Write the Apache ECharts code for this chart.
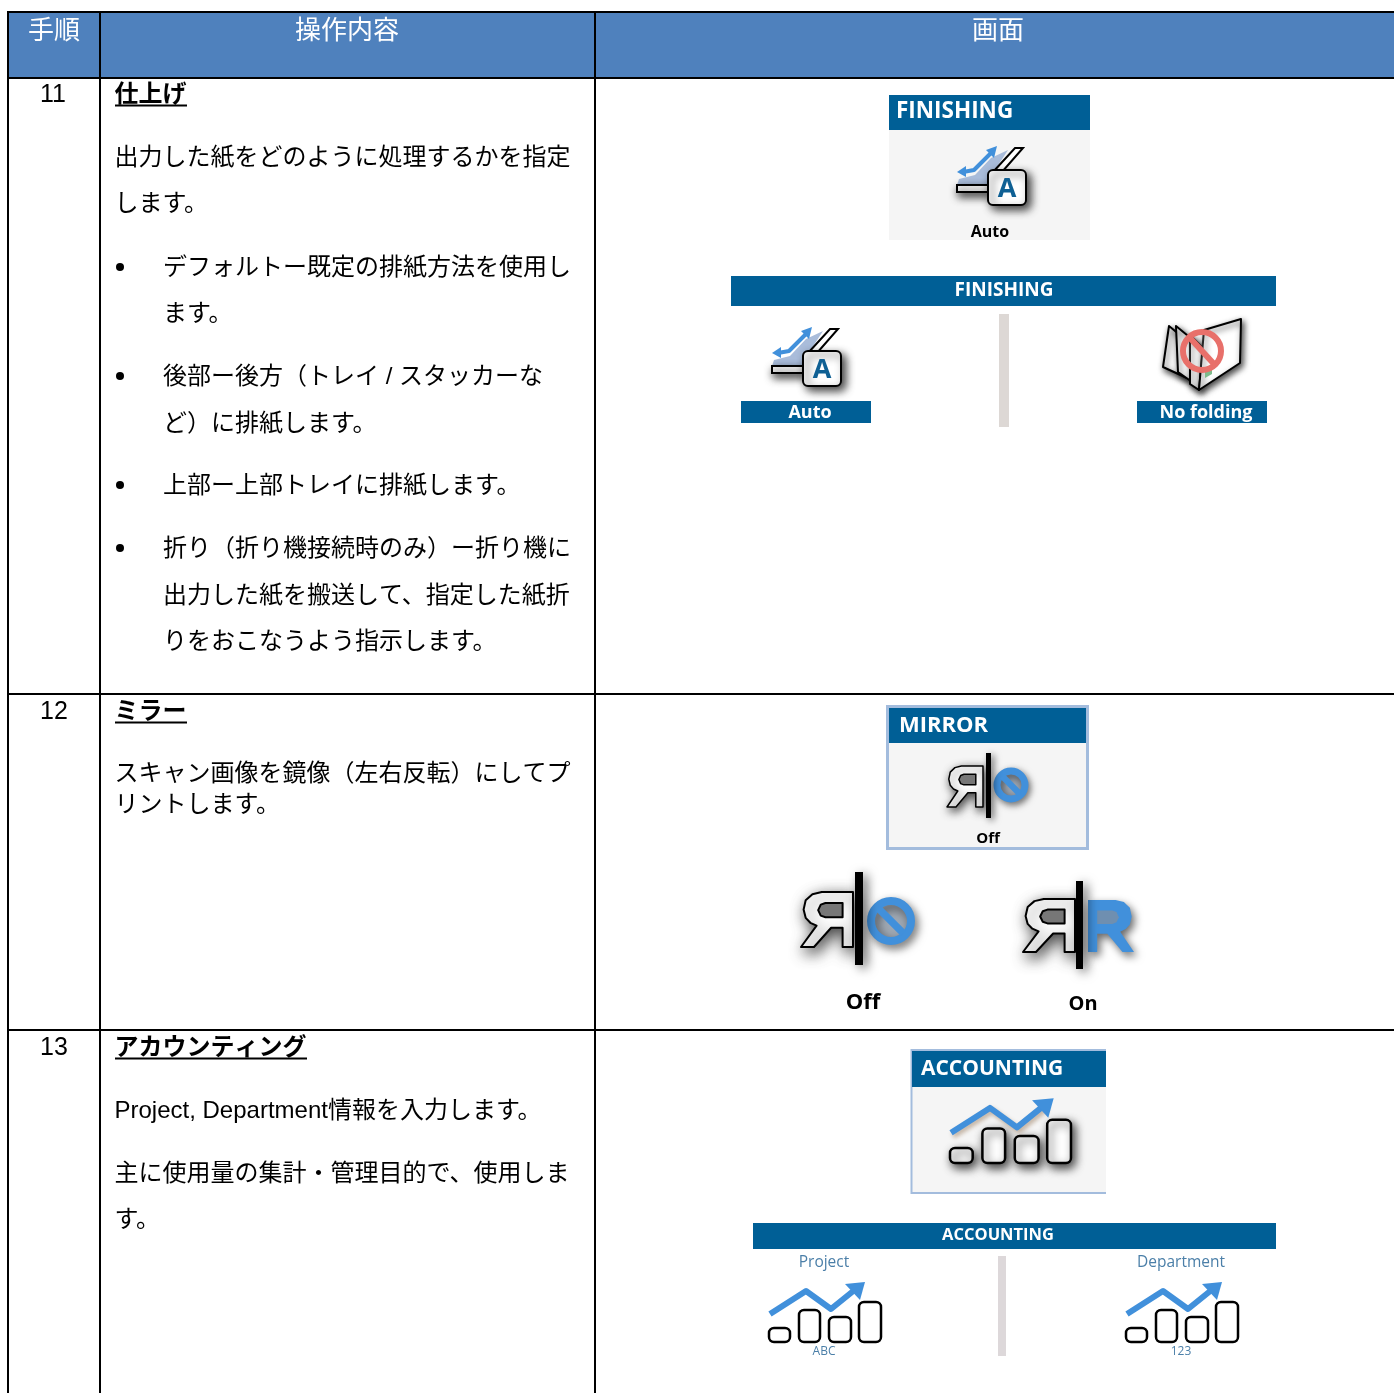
<!DOCTYPE html>
<html><head><meta charset="utf-8">
<style>html,body{margin:0;padding:0;background:#fff}#c{width:1394px;height:1393px}</style>
<script src="https://cdn.jsdelivr.net/npm/echarts@6/dist/echarts.min.js"></script>
</head><body><div id="c"></div>
<script>
const headers = ['手順', '操作内容', '画面'];
const steps = ['11', '12', '13'];
const titles = ['仕上げ', 'ミラー', 'アカウンティング'];
const finishingBody = ['出力した紙をどのように処理するかを指定', 'します。'];
const finishingBullets = ['デフォルトー既定の排紙方法を使用し', 'ます。', '後部ー後方（トレイ / スタッカーな', 'ど）に排紙します。', '上部ー上部トレイに排紙します。', '折り（折り機接続時のみ）ー折り機に', '出力した紙を搬送して、指定した紙折', 'りをおこなうよう指示します。'];
const mirrorBody = ['スキャン画像を鏡像（左右反転）にしてプ', 'リントします。'];
const accountingBody = ['Project, Department情報を入力します。', '主に使用量の集計・管理目的で、使用しま', 'す。'];
const panelLabels = {finishing:'FINISHING', auto:'Auto', noFolding:'No folding', mirror:'MIRROR', off:'Off', on:'On', accounting:'ACCOUNTING', project:'Project', department:'Department', abc:'ABC', num:'123'};

const BODY = '"Liberation Sans","Noto Sans CJK JP",sans-serif';
const UI = '"Open Sans","Noto Sans",sans-serif';
const BLUE = '#005F96', SKY = '#4190DB', PANEL = '#F5F5F5', EDGE = '#A3BCDD';
const g = [];
const rect = (x,y,w,h,fill,o={}) => g.push({type:'rect',shape:{x,y,width:w,height:h,r:o.r||0},style:Object.assign({fill},o.style||{}),z:o.z||1});
const line = (x1,y1,x2,y2,c,w,z=3) => g.push({type:'line',shape:{x1,y1,x2,y2},style:{stroke:c,lineWidth:w},z});
const text = (t,x,y,size,o={}) => g.push({type:'text',x,y:y+1.5,style:{text:t,fill:o.fill||'#000',font:(o.weight||'normal')+' '+size+'px '+(o.family||BODY),textAlign:o.align||'left',textVerticalAlign:'middle'},z:o.z||5});
const poly = (pts,style,z=4) => g.push({type:'polygon',shape:{points:pts},style,z});
const pline = (pts,style,z=4) => g.push({type:'polyline',shape:{points:pts},style:Object.assign({fill:null,lineJoin:'round'},style),z});
const circle = (cx,cy,r,style,z=4) => g.push({type:'circle',shape:{cx,cy,r},style,z});
const shadow = (b=9,dx=4,dy=4,c='rgba(0,0,0,0.75)') => ({shadowBlur:b,shadowOffsetX:dx,shadowOffsetY:dy,shadowColor:c});

/* table */
rect(8,12,1386,66,'#4F81BD');
[12,78,694,1030].forEach(y=>line(7,y,1394,y,'#000',2));
[8,100,595].forEach(x=>line(x,11,x,1393,'#000',2));
[54,347,998].forEach((x,i)=>text(headers[i],x,30.5,26,{fill:'#fff',align:'center'}));
const stepY=[94,711,1047], stepX=[53,54,54];
steps.forEach((s,i)=>text(s,stepX[i],stepY[i],25,{align:'center'}));
const titleW=[72,72,192];
titles.forEach((s,i)=>{text(s,114.5,stepY[i],24,{weight:'bold'});line(115,stepY[i]+11.5,115+titleW[i],stepY[i]+11.5,'#000',2);});
[157,203].forEach((y,i)=>text(finishingBody[i],114.5,y,24));
[267,313,376,423,485,548,595,641].forEach((y,i)=>text(finishingBullets[i],163,y,24));
[267,376,485,548].forEach(y=>circle(120,y,4,{fill:'#000'}));
[773,804].forEach((y,i)=>text(mirrorBody[i],114.5,y,24));
[1110,1173,1219].forEach((y,i)=>text(accountingBody[i],114.5,y,24));

/* finishing icon, origin = top-left of the A box */
function autoIcon(ox,oy){
  const P=a=>a.map(([x,y])=>[ox+x,oy+y]);
  poly(P([[-31,15],[-29,9],[-13,5],[3,-12],[20,-20],[5,3],[1,15]]),{fill:'#A9BCDA'},3);
  poly(P([[-31,15],[1,15],[1,22],[-31,22]]),Object.assign({fill:'#fff',stroke:'#000',lineWidth:2},shadow(8,2,4)),3);
  poly(P([[5,2],[27,-22],[35,-22],[14,2]]),{fill:'#fff',stroke:'#000',lineWidth:2},3);
  pline(P([[-25,2],[-14,0],[-6,-8],[0,-14],[5,-19]]),{stroke:SKY,lineWidth:4});
  poly(P([[-31,2],[-22,-4],[-22,7]]),{fill:SKY});
  poly(P([[9,-24],[-2,-20],[6,-12]]),{fill:SKY});
  rect(ox,oy,38,35,'#fff',{r:5,z:4,style:Object.assign({stroke:'#000',lineWidth:2},shadow(9,4,4))});
  text('A',ox+19,oy+18,27,{family:UI,weight:'bold',fill:'#0F6094',align:'center'});
}
rect(889,95,201,145,PANEL);
rect(889,95,201,35,BLUE,{z:2});
text(panelLabels.finishing,896,110,22.5,{family:UI,weight:'bold',fill:'#fff'});
autoIcon(988,170);
text(panelLabels.auto,990,231,16,{family:UI,weight:'bold',align:'center'});

rect(731,276,545,30,BLUE);
text(panelLabels.finishing,1004,289,19,{family:UI,weight:'bold',fill:'#fff',align:'center'});
rect(999,314,10,113,'#DDD8D5');
autoIcon(803,351);
rect(741,401,130,22,BLUE);
rect(1137,401,130,22,BLUE);
text(panelLabels.auto,810,411,18,{family:UI,weight:'bold',fill:'#fff',align:'center'});
text(panelLabels.noFolding,1206,411,18,{family:UI,weight:'bold',fill:'#fff',align:'center'});
/* no folding pictogram */
const pg=Object.assign({fill:'#fff',stroke:'#000',lineWidth:2,lineJoin:'round'},shadow(6,2,3));
poly([[1169,326],[1192,345],[1187,378],[1163,367]],pg,3);
poly([[1176,326],[1199,345],[1195,384],[1178,372]],pg,3);
poly([[1190,335],[1203,348],[1199,390],[1190,384]],pg,3);
poly([[1204,330],[1241,319],[1240,363],[1199,390]],pg,3);
poly([[1205,370],[1212,366],[1212,374],[1205,378]],{fill:'#7DBB8C'},4);
circle(1202,351,19,{fill:'rgba(255,255,255,0.15)',stroke:'#E8706A',lineWidth:6},5);
line(1190,338,1214,364,'#E8706A',6,5);

/* mirror: letter outlines in a 100x100 box */
const SHAPE_MIRROR=[[100,0],[40,0],[22,4],[9,15],[5,32],[9,47],[18,56],[30,61],[0,100],[25,100],[58,65],[80,65],[80,100],[100,100]];
const SHAPE_PLAIN=SHAPE_MIRROR.map(([x,y])=>[100-x,y]);
const HOLE_MIRROR=[[80,20],[80,46],[47,46],[38,43],[33,33],[38,23],[47,20]];
const HOLE_PLAIN=HOLE_MIRROR.map(([x,y])=>[100-x,y]);
const fit=(a,x,y,w,h)=>a.map(([u,v])=>[x+u*w/100,y+v*h/100]);
function mirrored(x,y,w,h,barX,by1,by2,bw,lw){
  poly(fit(SHAPE_MIRROR,x,y,w,h),Object.assign({fill:'#fff',stroke:'#000',lineWidth:lw,lineJoin:'round'},shadow(w*0.28,w*0.06,w*0.09)),4);
  poly(fit(HOLE_MIRROR,x,y,w,h),{fill:'#777',stroke:'#000',lineWidth:lw,lineJoin:'round'},4);
  rect(barX-bw/2,by1,bw,by2-by1,'#000',{z:5,style:shadow(w*0.2,w*0.08,w*0.06,'rgba(0,0,0,0.6)')});
}
function offMark(cx,cy,r,lw){
  circle(cx,cy,r,Object.assign({fill:'rgba(120,140,165,0.45)',stroke:SKY,lineWidth:lw},shadow(r*0.5,r*0.15,r*0.2,'rgba(0,0,0,0.55)')),4);
  line(cx-r*0.62,cy-r*0.62,cx+r*0.62,cy+r*0.62,SKY,lw*0.9,5);
}
rect(887.5,706.5,200,142,PANEL,{style:{stroke:EDGE,lineWidth:3}});
rect(889,708,197,35,BLUE,{z:2});
text(panelLabels.mirror,899,724,22,{family:UI,weight:'bold',fill:'#fff'});
mirrored(947,766,36,41,988.5,753,818,5,1.5);
offMark(1011,785,14,7);
text(panelLabels.off,988,837,15,{family:UI,weight:'bold',align:'center'});
mirrored(801,892,52,55,859,872,965,8,2);
offMark(891,921,20,8);
text(panelLabels.off,863,1001,22,{family:UI,weight:'bold',align:'center'});
mirrored(1023,899,52,53,1079.5,881,969,7,2);
poly(fit(SHAPE_PLAIN,1088,900,46,52),Object.assign({fill:SKY},shadow(9,3,4,'rgba(0,0,0,0.6)')),4);
poly(fit(HOLE_PLAIN,1088,900,46,52),{fill:'#6f8fb0'},4);
text(panelLabels.on,1083,1003,20,{family:UI,weight:'bold',align:'center'});

/* accounting icon, origin = bottom-left of first bar */
function acctIcon(ox,oy,s,sh){
  const bars=[[0,21,14],[30,21,32],[60,22,25],[90,22,40]];
  bars.forEach(([x,w,h])=>rect(ox+x*s,oy-h*s,w*s,h*s,'#fff',{r:5,z:4,style:Object.assign({stroke:'#000',lineWidth:2.5},sh?shadow(10,3,4):{})}));
  const P=a=>a.map(([x,y])=>[ox+x*s,oy-y*s]);
  pline(P([[1,28],[37,51],[62,33],[88,54]]),Object.assign({stroke:SKY,lineWidth:6},sh?shadow(4,2,3,'rgba(120,80,40,0.4)'):{}),5);
  poly(P([[96,60],[76,58],[91,42]]),{fill:SKY},5);
}
rect(912,1050,194,143,PANEL);
line(911.5,1049,911.5,1194,EDGE,2,2);line(911,1050,1106,1050,EDGE,2,2);line(911,1193,1106,1193,EDGE,2,2);
rect(912,1051,194,36,BLUE,{z:2});
text(panelLabels.accounting,921,1068,21,{family:UI,weight:'bold',fill:'#fff'});
acctIcon(950,1163,1.08,true);

rect(753,1223,523,26,BLUE);
text(panelLabels.accounting,998,1234,16.5,{family:UI,weight:'bold',fill:'#fff',align:'center'});
rect(998,1256,8,100,'#DDD8DA');
const LBL='#4B7FA8';
text(panelLabels.project,824,1261,15.5,{family:UI,fill:LBL,align:'center'});
text(panelLabels.department,1181,1261,15.5,{family:UI,fill:LBL,align:'center'});
acctIcon(769,1342,1,false);
acctIcon(1126,1342,1,false);
text(panelLabels.abc,824,1350,12,{family:UI,fill:LBL,align:'center'});
text(panelLabels.num,1181,1350,12,{family:UI,fill:LBL,align:'center'});

const chart=echarts.init(document.getElementById('c'),null,{renderer:'canvas'});
chart.setOption({animation:false,backgroundColor:'#fff',graphic:{elements:g}});
</script></body></html>
